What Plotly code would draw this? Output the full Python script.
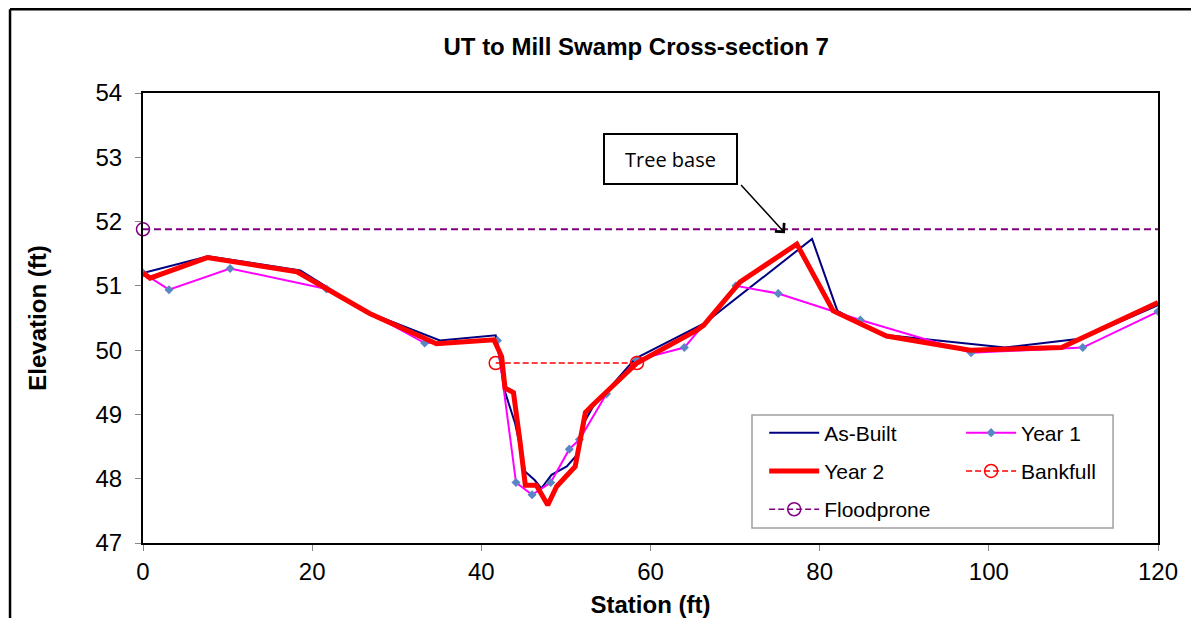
import plotly.graph_objects as go

# cross-section survey data (station ft, elevation ft)
asbuilt_x = [0, 7.7, 18.6, 26.4, 35.1, 41.7, 42.8, 44.0, 45.2, 46.3, 47.1, 48.3, 50.1, 51.3,
             52.3, 53.2, 58.2, 66.4, 79.1, 82.1, 87.5, 101.9, 111.0, 120]
asbuilt_y = [51.2, 51.46, 51.24, 50.6, 50.15, 50.23, 49.35, 48.86, 48.11, 47.98, 47.85, 48.06, 48.19, 48.37,
             48.91, 49.12, 49.87, 50.42, 51.73, 50.61, 50.24, 50.04, 50.18, 50.7]

year1_x = [0, 3.07, 10.3, 21.7, 33.3, 41.9, 44.1, 46.0, 48.2, 50.4, 51.6, 54.8, 58.4, 64.0,
           70.1, 75.1, 84.8, 97.9, 111.1, 120]
year1_y = [51.2, 50.94, 51.27, 50.95, 50.11, 50.15, 47.94, 47.75, 47.94, 48.46, 48.61, 49.32, 49.85, 50.04,
           51.0, 50.88, 50.47, 49.96, 50.04, 50.6]

year2_x = [0, 0.83, 7.6, 18.2, 26.8, 34.7, 41.5, 42.4, 42.8, 43.8, 44.6, 45.2, 46.5, 47.85,
           48.9, 51.1, 52.3, 53.2, 58.4, 65.5, 66.3, 70.6, 77.3, 81.6, 87.9, 97.8, 108.6, 120]
year2_y = [51.2, 51.12, 51.44, 51.22, 50.57, 50.1, 50.16, 49.9, 49.41, 49.34, 48.55, 47.9, 47.9, 47.59,
           47.88, 48.19, 49.03, 49.15, 49.8, 50.31, 50.39, 51.06, 51.65, 50.61, 50.22, 50.0, 50.04, 50.74]

bankfull_x = [41.7, 58.4]
bankfull_y = [49.8, 49.8]

floodprone_x = [0, 120]
floodprone_y = [51.88, 51.88]

FONT = "Arial, Liberation Sans, sans-serif"

fig = go.Figure()

fig.add_trace(go.Scatter(x=asbuilt_x, y=asbuilt_y, mode='lines', name='As-Built',
                         line=dict(color='#000080', width=2),
                         legend='legend', legendgroup='a'))
fig.add_trace(go.Scatter(x=year1_x, y=year1_y, mode='lines+markers', name='Year 1',
                         line=dict(color='#FF00FF', width=2),
                         marker=dict(symbol='diamond', size=7, color='#5B86C5',
                                     line=dict(color='#4F81BD', width=0)),
                         legend='legend2', legendgroup='b'))
fig.add_trace(go.Scatter(x=year2_x, y=year2_y, mode='lines', name='Year 2',
                         line=dict(color='#FF0000', width=5),
                         legend='legend', legendgroup='c'))
fig.add_trace(go.Scatter(x=bankfull_x, y=bankfull_y, mode='lines+markers', name='Bankfull',
                         line=dict(color='#FF0000', width=1.5, dash='6px,3px'),
                         marker=dict(symbol='circle-open', size=13, color='#FF0000', line=dict(width=1.5)),
                         cliponaxis=False, legend='legend2', legendgroup='d'))
fig.add_trace(go.Scatter(x=floodprone_x, y=floodprone_y, mode='lines', showlegend=False,
                         line=dict(color='#800080', width=2, dash='7px,4px'),
                         legend='legend', legendgroup='e'))
fig.add_trace(go.Scatter(x=floodprone_x[:1], y=floodprone_y[:1], mode='lines+markers', name='Floodprone',
                         line=dict(color='#800080', width=1.5, dash='6px,3px'),
                         marker=dict(symbol='circle-open', size=13, color='#800080', line=dict(width=1.5)),
                         cliponaxis=False, legend='legend', legendgroup='e'))

axis_common = dict(showline=True, linecolor='black', linewidth=2, mirror=True,
                   showgrid=False, zeroline=False, ticks='outside', ticklen=6,
                   tickcolor='#888888', tickwidth=1, automargin=False,
                   tickfont=dict(family=FONT, size=24, color='black'))

# page body has an 8px margin, so the figure is sized and offset to compensate
fig.update_layout(
    width=1183, height=610,
    paper_bgcolor='white', plot_bgcolor='white',
    margin=dict(l=135, r=33, t=85, b=75),
    title=dict(text='<b>UT to Mill Swamp Cross-section 7</b>', x=0.531, xanchor='center',
               y=1 - 39 / 610, yanchor='middle', font=dict(family=FONT, size=24, color='black')),
    xaxis=dict(range=[0, 120], dtick=20,
               title=dict(text='<b>Station (ft)</b>', font=dict(family=FONT, size=24, color='black'),
                          standoff=12),
               **axis_common),
    yaxis=dict(range=[47, 54], dtick=1,
               title=dict(text='<b>Elevation (ft)</b>', font=dict(family=FONT, size=24, color='black'),
                          standoff=42),
               ticklabelstandoff=8,
               **axis_common),
    legend=dict(x=0.612, y=0.29, xanchor='left', yanchor='top', bgcolor='rgba(0,0,0,0)',
                font=dict(family=FONT, size=21, color='black'), itemwidth=50,
                tracegroupgap=8, orientation='v'),
    legend2=dict(x=0.806, y=0.29, xanchor='left', yanchor='top', bgcolor='rgba(0,0,0,0)',
                 font=dict(family=FONT, size=21, color='black'), itemwidth=50,
                 tracegroupgap=8, orientation='v'),
    shapes=[
        # legend frame
        dict(type='rect', xref='paper', yref='paper', x0=0.6, x1=0.9557, y0=0.0333, y1=0.2844,
             line=dict(color='#A0A0A0', width=1.5), fillcolor='white', layer='above'),
        # outer chart frame (left and top edges; the rest falls outside the picture)
        dict(type='line', xref='paper', yref='paper', x0=-0.131, x1=-0.131, y0=-0.25, y1=1.186,
             line=dict(color='black', width=2.5), layer='above'),
        dict(type='line', xref='paper', yref='paper', x0=-0.131, x1=1.1, y0=1.186, y1=1.186,
             line=dict(color='black', width=2.5), layer='above'),
    ],
    annotations=[
        dict(x=62.37, y=52.97, xref='x', yref='y', text='Tree base', showarrow=False,
             font=dict(family='Open Sans, Calibri, sans-serif', size=20, color='black'),
             width=131, height=48, bordercolor='black', borderwidth=2, borderpad=0,
             bgcolor='white'),
        dict(x=75.9, y=51.82, xref='x', yref='y', ax=70.35, ay=52.62, axref='x', ayref='y',
             text=' ', showarrow=True, arrowhead=4, arrowsize=1.6, arrowwidth=1.5,
             arrowcolor='black'),
    ],
)

fig.write_html("out.html")
